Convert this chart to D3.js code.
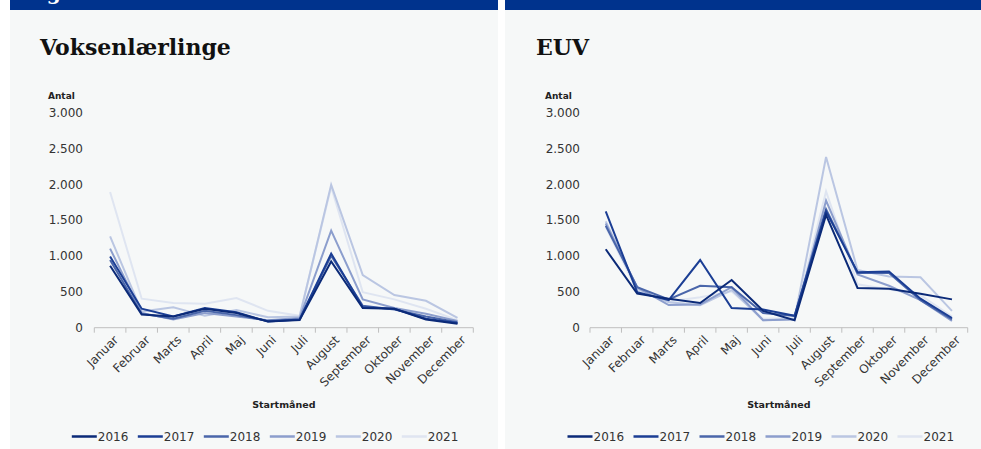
<!DOCTYPE html>
<html><head><meta charset="utf-8">
<script src="https://cdn.jsdelivr.net/npm/d3@7"></script>
<style>
html,body{margin:0;padding:0;background:#fff;}
svg{display:block;}
</style></head>
<body>
<svg id="c" width="981" height="449"></svg>
<script>
const months = ["Januar","Februar","Marts","April","Maj","Juni","Juli","August","September","Oktober","November","December"];
const years = ["2016","2017","2018","2019","2020","2021"];
const yTicks = [0,500,1000,1500,2000,2500,3000];
const titles = ["Voksenlærlinge","EUV"];

// Voksenlærlinge
const voks2016 = [860,180,150,260,200,80,100,920,270,260,110,50];
const voks2017 = [990,260,150,270,210,80,110,1030,280,260,120,60];
const voks2018 = [940,190,120,230,170,90,110,1000,300,250,150,70];
const voks2019 = [1100,200,110,200,150,100,130,1350,390,270,190,90];
const voks2020 = [1270,220,280,160,240,140,150,1990,730,450,370,130];
const voks2021 = [1890,400,340,330,410,230,160,1960,490,390,260,100];

// EUV
const euv2016 = [1090,470,400,340,660,230,100,1570,550,540,470,390];
const euv2017 = [1620,490,380,940,270,250,160,1620,770,780,400,130];
const euv2018 = [1420,560,390,580,560,200,160,1650,760,760,380,110];
const euv2019 = [1450,560,310,320,560,100,110,1770,740,580,380,90];
const euv2020 = [1480,540,350,310,520,100,120,2380,800,710,700,230];
const euv2021 = [1400,520,360,420,500,120,130,1900,600,530,450,150];

const colors = ["#0b2a78","#1b3e94","#4a66aa","#8c9ecd","#bac6e2","#dfe5f1"];

const panels = [
  {bx:10, bw:488, title:titles[0], tx:40, x0:94.3, x1:473.3, series:[voks2016,voks2017,voks2018,voks2019,voks2020,voks2021], antalX:48},
  {bx:505, bw:476, title:titles[1], tx:536, x0:590, x1:967.7, series:[euv2016,euv2017,euv2018,euv2019,euv2020,euv2021], antalX:545}
];

const svg = d3.select("#c");
const loc = d3.formatLocale({decimal:",", thousands:".", grouping:[3], currency:["","kr"]});
const fmt = loc.format(",");

panels.forEach(p=>{
  svg.append("rect").attr("x",p.bx).attr("y",10).attr("width",p.bw).attr("height",439).attr("fill","#f6f8f8");
  svg.append("rect").attr("x",p.bx).attr("y",0).attr("width",p.bw).attr("height",10).attr("fill","#00338d");
});
svg.append("text").attr("x",25).attr("y",0).attr("fill","#fff")
  .attr("font-family","DejaVu Serif").attr("font-weight","bold").attr("font-size",20).text("Figur");

panels.forEach(p=>{
  const g = svg.append("g");
  g.append("text").attr("x",p.tx).attr("y",55).attr("font-family","DejaVu Serif")
    .attr("font-weight","bold").attr("font-size",22).attr("fill","#111").text(p.title);

  const x = d3.scaleBand().domain(months).range([p.x0,p.x1]).padding(0);
  const y = d3.scaleLinear().domain([0,3000]).range([327.3,112.6]);

  // y axis labels
  const ya = g.append("g").attr("transform",`translate(${p.antalX+35},0)`)
    .call(d3.axisLeft(y).tickValues(yTicks).tickSize(0).tickPadding(0).tickFormat(fmt));
  ya.select(".domain").remove();
  ya.selectAll("text").attr("font-family","DejaVu Sans").attr("font-size",12).attr("fill","#333");

  g.append("text").attr("x",p.antalX).attr("y",99).attr("font-family","DejaVu Sans")
    .attr("font-weight","bold").attr("font-size",9).attr("fill","#222").text("Antal");

  // x axis
  const axisY = 327.7;
  const xa = g.append("g").attr("transform",`translate(0,${axisY})`)
    .call(d3.axisBottom(x).tickSize(0).tickPadding(0));
  xa.select(".domain").remove();
  xa.selectAll("text")
    .attr("font-family","DejaVu Sans").attr("font-size",12).attr("fill","#333")
    .attr("text-anchor","end")
    .attr("transform","translate(6,10) rotate(-45)")
    .attr("x",0).attr("y",0).attr("dy","0.35em");
  g.append("line").attr("x1",p.x0).attr("x2",p.x1).attr("y1",axisY).attr("y2",axisY)
    .attr("stroke","#bfbfbf").attr("stroke-width",1);
  const edges = months.map(m=>x(m)).concat([p.x1]);
  g.selectAll("line.tk").data(edges).join("line").attr("class","tk")
    .attr("x1",d=>d).attr("x2",d=>d).attr("y1",axisY).attr("y2",axisY+5)
    .attr("stroke","#bfbfbf").attr("stroke-width",1);

  g.append("text").attr("x",(p.x0+p.x1)/2).attr("y",408).attr("text-anchor","middle")
    .attr("font-family","DejaVu Sans").attr("font-weight","bold").attr("font-size",9.5)
    .attr("fill","#222").text("Startmåned");

  const line = d3.line().x((d,i)=>x(months[i])+x.bandwidth()/2).y(d=>y(d));
  for(let k=years.length-1;k>=0;k--){
    g.append("path").datum(p.series[k]).attr("d",line).attr("fill","none")
      .attr("stroke",colors[k]).attr("stroke-width",2).attr("stroke-linejoin","miter");
  }

  // legend
  const ls = p.x0-22.5;
  years.forEach((yr,k)=>{
    const lx = ls + k*66;
    g.append("line").attr("x1",lx).attr("x2",lx+25).attr("y1",436.5).attr("y2",436.5)
      .attr("stroke",colors[k]).attr("stroke-width",2.5);
    g.append("text").attr("x",lx+26).attr("y",441).attr("font-family","DejaVu Sans")
      .attr("font-size",12).attr("fill","#333").text(yr);
  });
});
</script>
</body></html>
